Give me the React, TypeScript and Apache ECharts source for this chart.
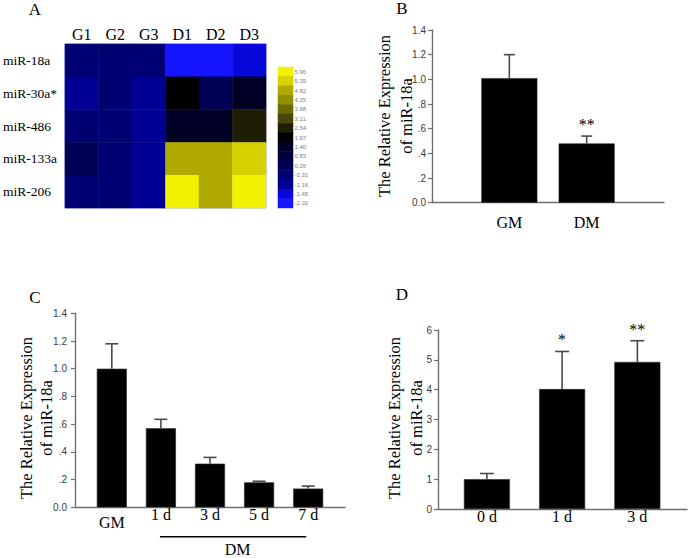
import React, { useEffect, useRef } from "react";
import * as echarts from "echarts";

// ---------- Panel A: heatmap ----------
const heatRows = ["miR-18a", "miR-30a*", "miR-486", "miR-133a", "miR-206"];
const heatCols = ["G1", "G2", "G3", "D1", "D2", "D3"];
const heatValues = [
  [-0.31, -0.31, -0.31, -2.02, -2.02, -1.45],
  [-1.16, -0.31, -1.16, 1.97, 0.26, 1.4],
  [-0.31, -0.31, -1.16, 1.4, 1.4, 2.54],
  [0.26, -0.31, -1.16, 4.82, 4.82, 5.39],
  [-0.31, -0.31, -1.16, 5.96, 4.82, 5.96],
];
const levelValues = [5.96, 5.39, 4.82, 4.25, 3.68, 3.11, 2.54, 1.97, 1.4, 0.83, 0.26, -0.31, -1.16, -1.45, -2.02];
const levelLabels = ["5.96", "5.39", "4.82", "4.25", "3.68", "3.11", "2.54", "1.97", "1.40", "0.83", "0.26", "-0.31", "-1.16", "-1.45", "-2.02"];
const levelColors = [
  "#f2f200", "#d6d200", "#b0aa00", "#929000", "#6c6a00", "#484608", "#1e1e04", "#000000",
  "#000026", "#00003e", "#000054", "#000072", "#000094", "#0808dc", "#1414ff",
];

// ---------- Panel B ----------
const catsB = ["GM", "DM"];
const meanB = [1.01, 0.48];
const errB = [0.19, 0.06];
const sigB = ["", "**"];

// ---------- Panel C ----------
const catsC = ["GM", "1 d", "3 d", "5 d", "7 d"];
const meanC = [1.0, 0.57, 0.315, 0.18, 0.135];
const errC = [0.18, 0.065, 0.045, 0.008, 0.018];
const sigC = ["", "", "", "", ""];
const dmGroupC = ["1 d", "7 d"];
const dmLabel = "DM";

// ---------- Panel D ----------
const catsD = ["0 d", "1 d", "3 d"];
const meanD = [1.0, 4.02, 4.93];
const errD = [0.19, 1.26, 0.71];
const sigD = ["", "*", "**"];

const yTicksBC = ["0.0", ".2", ".4", ".6", ".8", "1.0", "1.2", "1.4"];
const yTitle = "The Relative Expression\nof miR-18a";
const panelLetters = ["A", "B", "C", "D"];

const SERIF = '"Liberation Serif", "Times New Roman", serif';
const SANS = '"Liberation Sans", Arial, sans-serif';
const AXIS = "#707070";

function catFormatter(cats: string[], richFirst?: boolean) {
  return (v: number) => {
    const r = Math.round(v);
    if (Math.abs(v - r) > 1e-6 || r < 1 || r > cats.length) return "";
    if (richFirst && r === 1) return "{g|" + cats[0] + "}";
    return cats[r - 1];
  };
}

function errorSeries(axis: number, means: number[], errs: number[], sigs: string[], cap: number) {
  return {
    type: "custom",
    xAxisIndex: axis,
    yAxisIndex: axis,
    clip: false,
    z: 5,
    itemStyle: { color: "#000" },
    data: means.map((m, i) => [i + 1, m, errs[i]]),
    renderItem: (params: any, api: any) => {
      const x = api.value(0);
      const m = api.value(1);
      const e = api.value(2);
      const p0 = api.coord([x, m]);
      const p1 = api.coord([x, m + e]);
      const children: any[] = [
        { type: "line", shape: { x1: p0[0], y1: p0[1], x2: p1[0], y2: p1[1] }, style: { stroke: "#4a4a4a", lineWidth: 1.6 } },
        { type: "line", shape: { x1: p1[0] - cap / 2, y1: p1[1], x2: p1[0] + cap / 2, y2: p1[1] }, style: { stroke: "#4a4a4a", lineWidth: 1.6 } },
      ];
      const s = sigs[params.dataIndex];
      if (s) {
        children.push({
          type: "text",
          style: {
            text: s, x: p1[0], y: p1[1] - 11.5, align: "center", verticalAlign: "middle",
            fontSize: 16, fontFamily: SERIF, fill: "#000", stroke: "none", lineWidth: 0,
          },
        });
      }
      return { type: "group", children };
    },
  };
}

function barSeries(axis: number, means: number[], width: number) {
  return {
    type: "bar",
    xAxisIndex: axis,
    yAxisIndex: axis,
    barWidth: width,
    data: means.map((m, i) => [i + 1, m]),
    itemStyle: { color: "#000", borderColor: "#2a2a2a", borderWidth: 0.6 },
    z: 3,
  };
}

function valueYAxis(grid: number, max: number, interval: number, margin: number, formatter?: any) {
  return {
    type: "value",
    gridIndex: grid,
    min: 0,
    max,
    interval,
    axisLine: { show: true, onZero: false, lineStyle: { color: AXIS, width: 1.4 } },
    axisTick: { show: true, length: 4, lineStyle: { color: AXIS, width: 1.2 } },
    splitLine: { show: false },
    axisLabel: { fontFamily: SANS, fontSize: 10, color: "#3a3a3a", margin, formatter },
  };
}

function valueXAxis(grid: number, min: number, max: number, cats: string[], margin: number, rich?: any) {
  return {
    type: "value",
    gridIndex: grid,
    min,
    max,
    axisLine: { show: true, onZero: false, lineStyle: { color: AXIS, width: 1.4 } },
    axisTick: { show: false },
    splitLine: { show: false },
    axisLabel: {
      fontFamily: SERIF,
      fontSize: 16,
      color: "#000",
      margin,
      showMinLabel: true,
      showMaxLabel: true,
      formatter: catFormatter(cats, !!rich),
      rich,
    },
  };
}

export default function App() {
  const ref = useRef<HTMLDivElement>(null);

  useEffect(() => {
    if (!ref.current) return;
    const chart = echarts.init(ref.current, undefined, { renderer: "svg" });

    const heatData: number[][] = [];
    heatValues.forEach((row, r) => row.forEach((v, c) => heatData.push([c, r, v])));
    const barData = levelValues.map((v, i) => [0, i, v]);
    const tickFmt = (v: number) => yTicksBC[Math.round(v / 0.2)] ?? "";
    const titleStyle = (lh: number) => ({ text: yTitle, fontSize: 16.5, lineHeight: lh, fontFamily: SERIF, fill: "#000", align: "center", verticalAlign: "middle" });
    const letterStyle = (t: string) => ({ text: t, fontSize: 17, fontFamily: SERIF, fill: "#000", align: "center", verticalAlign: "middle" });

    const option: any = {
      animation: false,
      backgroundColor: "#fff",
      grid: [
        { left: 58.7, top: 44, width: 207.3, height: 164, show: true, borderColor: "#a0a0f0", borderWidth: 1, backgroundColor: "transparent" },
        { left: 278, top: 67, width: 15, height: 141 },
        { left: 432, top: 30, width: 232, height: 172.7 },
        { left: 75, top: 313.3, width: 270, height: 194 },
        { left: 438, top: 330, width: 250, height: 179 },
      ],
      xAxis: [
        {
          type: "category",
          gridIndex: 0,
          data: heatCols,
          position: "top",
          axisLine: { show: false },
          axisTick: { show: false },
          axisLabel: { fontFamily: SERIF, fontSize: 16, color: "#000", margin: 1.5 },
        },
        { type: "category", gridIndex: 1, data: ["c"], show: false },
        valueXAxis(2, 0, 3, catsB, 12),
        valueXAxis(3, 0.25, 5.75, catsC, -1, { g: { padding: [8, 0, 0, 0], fontFamily: SERIF, fontSize: 16, color: "#000" } }),
        valueXAxis(4, 0.35, 3.66, catsD, -0.5),
      ],
      yAxis: [
        {
          type: "category",
          gridIndex: 0,
          data: heatRows,
          inverse: true,
          axisLine: { show: false },
          axisTick: { show: false },
          axisLabel: { align: "left", margin: 62, fontFamily: SERIF, fontSize: 13.5, color: "#000" },
        },
        {
          type: "category",
          gridIndex: 1,
          data: levelLabels,
          inverse: true,
          position: "right",
          axisLine: { show: false },
          axisTick: { show: false },
          axisLabel: { fontFamily: SANS, fontSize: 6, color: "#808080", margin: 1.5, interval: 0 },
        },
        valueYAxis(2, 1.4, 0.2, 6, tickFmt),
        valueYAxis(3, 1.4, 0.2, 8, tickFmt),
        valueYAxis(4, 6, 1, 6),
      ],
      visualMap: {
        type: "piecewise",
        show: false,
        dimension: 2,
        seriesIndex: [0, 1],
        pieces: levelValues.map((v, i) => ({ value: v, color: levelColors[i] })),
      },
      series: [
        { type: "heatmap", xAxisIndex: 0, yAxisIndex: 0, data: heatData, emphasis: { disabled: true } },
        { type: "heatmap", xAxisIndex: 1, yAxisIndex: 1, data: barData, emphasis: { disabled: true } },
        barSeries(2, meanB, 56),
        errorSeries(2, meanB, errB, sigB, 11),
        barSeries(3, meanC, 30),
        errorSeries(3, meanC, errC, sigC, 13),
        barSeries(4, meanD, 46),
        errorSeries(4, meanD, errD, sigD, 14),
        {
          type: "custom",
          xAxisIndex: 3,
          yAxisIndex: 3,
          clip: false,
          itemStyle: { color: "#000" },
          data: [[catsC.indexOf(dmGroupC[0]) + 1, catsC.indexOf(dmGroupC[1]) + 1, 0]],
          renderItem: (params: any, api: any) => {
            const a = api.coord([api.value(0), api.value(2)]);
            const b = api.coord([api.value(1), api.value(2)]);
            const y = a[1] + 29.4;
            return {
              type: "group",
              children: [
                { type: "line", shape: { x1: a[0] - 1, y1: y, x2: b[0] - 2, y2: y }, style: { stroke: "#000", lineWidth: 1.5 } },
                {
                  type: "text",
                  style: {
                    text: dmLabel, x: (a[0] + b[0]) / 2 + 3, y: 557.5, align: "center", verticalAlign: "bottom",
                    fontSize: 16, fontFamily: SERIF, fill: "#000", stroke: "none", lineWidth: 0,
                  },
                },
              ],
            };
          },
        },
      ],
      graphic: [
        { type: "text", x: 35, y: 9, style: letterStyle(panelLetters[0]) },
        { type: "text", x: 402, y: 8, style: letterStyle(panelLetters[1]) },
        { type: "text", x: 35, y: 297, style: letterStyle(panelLetters[2]) },
        { type: "text", x: 402, y: 294, style: letterStyle(panelLetters[3]) },
        { type: "text", x: 395.3, y: 116, rotation: Math.PI / 2, style: titleStyle(22.5) },
        { type: "text", x: 36.7, y: 418, rotation: Math.PI / 2, style: titleStyle(20.5) },
        { type: "text", x: 405.5, y: 418, rotation: Math.PI / 2, style: titleStyle(22.4) },
      ],
    };

    chart.setOption(option);
    return () => chart.dispose();
  }, []);

  return <div ref={ref} style={{ position: "fixed", left: 0, top: 0, width: 690, height: 558 }} />;
}
